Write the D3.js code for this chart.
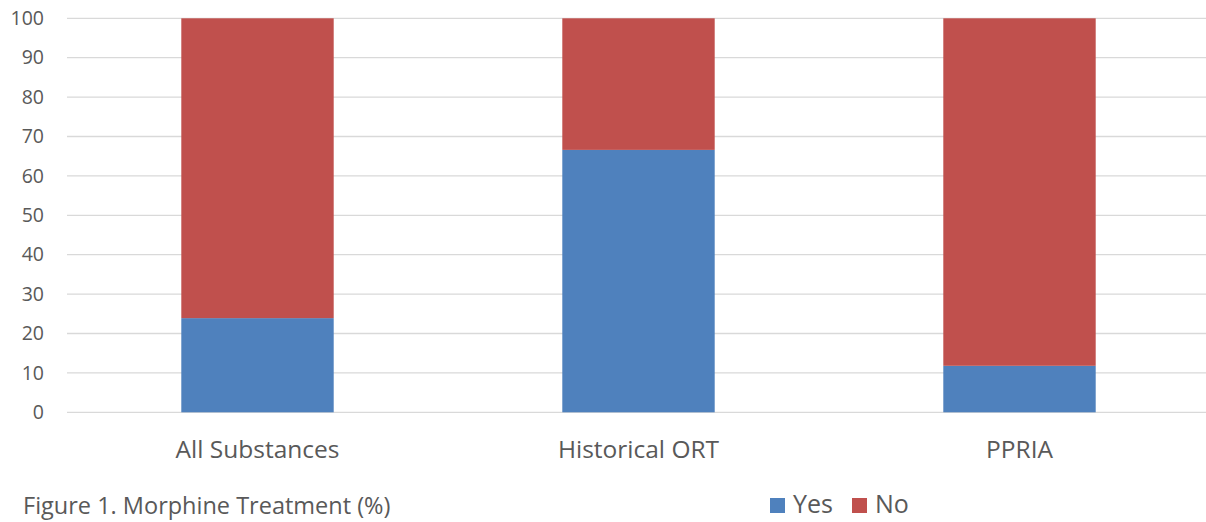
<!DOCTYPE html>
<html>
<head>
<meta charset="utf-8">
<script src="https://cdn.jsdelivr.net/npm/d3@7"></script>
<style>
  html, body { margin: 0; padding: 0; background: #fff; }
  svg { display: block; }
  text { font-family: "Open Sans", "Noto Sans", sans-serif; fill: #595959; }
</style>
</head>
<body>
<svg id="chart" width="1206" height="522"></svg>
<script>
// Morphine treatment share by group (percent)
const categories = ["All Substances", "Historical ORT", "PPRIA"];
const yesValues = [23.9, 66.6, 11.8];
const noValues = [76.1, 33.4, 88.2];
const seriesNames = ["Yes", "No"];
const yTicks = [0, 10, 20, 30, 40, 50, 60, 70, 80, 90, 100];

const colors = { Yes: "#4F81BD", No: "#C0504D" };

const svg = d3.select("#chart");
const margin = { left: 67, right: -4, top: 18.3, bottom: 109.7 };
const width = 1206, height = 522;

const x = d3.scaleBand()
  .domain(categories)
  .range([margin.left, width - margin.right])
  .paddingInner(0.6)
  .paddingOuter(0.3);

const y = d3.scaleLinear()
  .domain([0, 100])
  .range([height - margin.bottom, margin.top]);

// Horizontal gridlines
svg.append("g")
  .selectAll("line")
  .data(yTicks)
  .join("line")
  .attr("x1", margin.left)
  .attr("x2", width)
  .attr("y1", d => y(d))
  .attr("y2", d => y(d))
  .attr("stroke", "#D9D9D9")
  .attr("stroke-width", 1.3);

// Y axis labels
const yAxis = d3.axisLeft(y).tickValues(yTicks).tickSize(0).tickPadding(0);
const gy = svg.append("g")
  .attr("transform", `translate(${margin.left - 23},0)`)
  .call(yAxis);
gy.select(".domain").remove();
gy.selectAll("text")
  .attr("font-size", 19.5)
  .attr("font-family", null)
  .attr("fill", "#595959");

// Stacked bars
const rows = categories.map((c, i) => ({ category: c, Yes: yesValues[i], No: noValues[i] }));
const stacked = d3.stack().keys(seriesNames)(rows);

svg.append("g")
  .selectAll("g")
  .data(stacked)
  .join("g")
  .attr("fill", d => colors[d.key])
  .selectAll("rect")
  .data(d => d)
  .join("rect")
  .attr("x", d => x(d.data.category))
  .attr("width", x.bandwidth())
  .attr("y", d => y(d[1]))
  .attr("height", d => y(d[0]) - y(d[1]));

// Category axis labels
const xAxis = d3.axisBottom(x).tickSize(0).tickPadding(0);
const gx = svg.append("g")
  .attr("transform", `translate(0,${height - margin.bottom + 46})`)
  .call(xAxis);
gx.select(".domain").remove();
gx.selectAll("text")
  .attr("font-size", 24.5)
  .attr("font-family", null)
  .attr("fill", "#595959")
  .attr("dy", 0);

// Caption
svg.append("text")
  .attr("x", 23)
  .attr("y", 514)
  .attr("font-size", 23.5)
  .text("Figure 1. Morphine Treatment (%)");

// Legend
const legend = svg.append("g").attr("transform", "translate(770,498)");
const items = [{ name: "Yes", dx: 0 }, { name: "No", dx: 82 }];
const li = legend.selectAll("g").data(items).join("g")
  .attr("transform", d => `translate(${d.dx},0)`);
li.append("rect")
  .attr("width", 15).attr("height", 15)
  .attr("fill", d => colors[d.name]);
li.append("text")
  .attr("x", 23).attr("y", 15)
  .attr("font-size", 25)
  .text(d => d.name);
</script>
</body>
</html>
